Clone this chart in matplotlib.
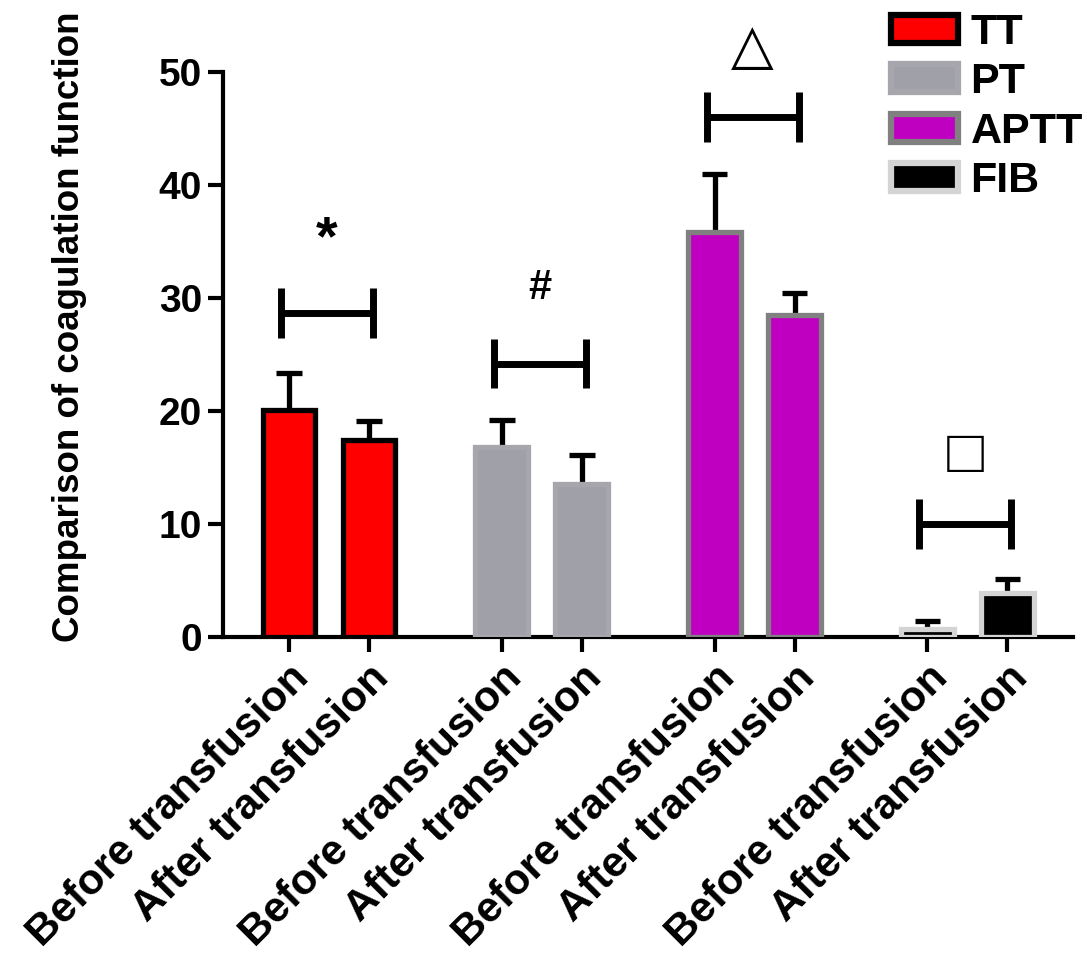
import numpy as np
import matplotlib.pyplot as plt
from matplotlib.patches import Patch

plt.rcParams['font.family'] = ['Liberation Sans', 'DejaVu Sans']
plt.rcParams['font.weight'] = 'bold'

groups = ["TT", "PT", "APTT", "FIB"]
conditions = ["Before transfusion", "After transfusion"]
before_means = [20.1, 16.8, 35.8, 0.7]
after_means = [17.4, 13.5, 28.5, 3.9]
before_err = [3.3, 2.4, 5.2, 0.7]
after_err = [1.7, 2.6, 1.9, 1.2]
bracket_y = [28.7, 24.2, 46.0, 10.0]
marks = ["*", "#", "\u25b3", "\u25a1"]
mark_y = [35.1, 30.9, 52.0, 16.0]
mark_size = [40, 30, 40, 44]

face = ["#ff0000", "#a0a0a8", "#c000c0", "#000000"]
edge = ["#000000", "#a6a6ac", "#808080", "#d4d4d4"]

fig = plt.figure(figsize=(10.87, 9.56), dpi=100)
ax = fig.add_axes([223 / 1087, 1 - 637 / 956, 850 / 1087, 565 / 956])

gap = 2.66
x_before = np.arange(len(groups)) * gap
x_after = x_before + 1
w = 0.66
cap = 0.16

for i in range(len(groups)):
    xs = [x_before[i], x_after[i]]
    vals = [before_means[i], after_means[i]]
    errs = [before_err[i], after_err[i]]
    ax.bar(xs, vals, width=w, color=face[i], edgecolor=edge[i], linewidth=3.8, zorder=3)
    ax.vlines(xs, vals, np.add(vals, errs), color="black", lw=3.8, zorder=2)
    ax.hlines(np.add(vals, errs), np.subtract(xs, cap), np.add(xs, cap), color="black", lw=3.8, zorder=2)

    # significance bracket
    x0, x1 = x_before[i] - 0.1, x_after[i] + 0.05
    ax.plot([x0, x1], [bracket_y[i]] * 2, color="black", lw=5, solid_capstyle="butt", clip_on=False)
    ax.vlines([x0, x1], bracket_y[i] - 2.2, bracket_y[i] + 2.2, color="black", lw=5, clip_on=False)
    ax.text((x0 + x1) / 2, mark_y[i], marks[i], ha="center", va="center", fontsize=mark_size[i],
            fontweight="normal" if i >= 2 else "bold", clip_on=False)

ax.set_xlim(-0.825, 9.8)
ax.set_ylim(0, 50)
ax.set_yticks(range(0, 51, 10))
ticks = np.ravel(np.column_stack([x_before, x_after]))
ax.set_xticks(ticks)
ax.set_xticklabels(conditions * len(groups), rotation=45, ha="right", rotation_mode="anchor",
                   fontsize=30.8, fontweight="bold")
for lab in ax.get_yticklabels():
    lab.set_fontsize(28)
    lab.set_fontweight("bold")

for s in ["top", "right"]:
    ax.spines[s].set_visible(False)
for s in ["left", "bottom"]:
    ax.spines[s].set_linewidth(3)
ax.tick_params(axis="both", length=11, width=3, direction="out", pad=4)

ax.set_ylabel("Comparison of coagulation function", fontsize=26.5, fontweight="bold", va="center")
ax.yaxis.set_label_coords(-0.18, 0.549)

handles = [Patch(facecolor=face[i], edgecolor=edge[i], linewidth=4.5, label=groups[i]) for i in range(len(groups))]
fig.legend(handles=handles, loc="upper left", bbox_to_anchor=(878 / 1087, 1.0), frameon=False,
           handlelength=1.55, handleheight=0.62, handletextpad=0.3, labelspacing=0.22,
           borderpad=0.3, borderaxespad=0, prop={"weight": "bold", "size": 31})

fig.savefig("out.png", dpi=100)
